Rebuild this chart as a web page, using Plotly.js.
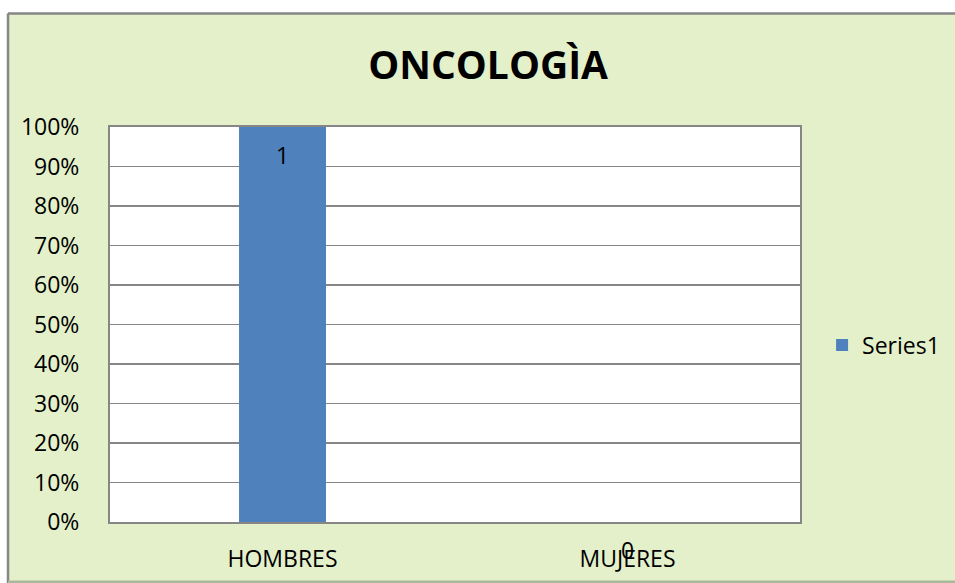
<!DOCTYPE html>
<html>
<head>
<meta charset="utf-8">
<script src="https://cdn.plot.ly/plotly-3.0.1.min.js"></script>
<style>html,body{margin:0;padding:0;background:#fff;}#chart{width:955px;height:583px;}</style>
</head>
<body>
<div id="chart"></div>
<script>
var categories = ["HOMBRES", "MUJERES"];
var values = [1, 0];
var labels = ["1", "0"];
var seriesName = "Series1";
var yTickVals = [0, 0.1, 0.2, 0.3, 0.4, 0.5, 0.6, 0.7, 0.8, 0.9, 1.0];
var titleText = "ONCOLOGÌA";

var font = "'Open Sans', 'Liberation Sans', sans-serif";
var gray = "#868686";

var trace = {
  type: "bar",
  x: categories,
  y: values,
  name: seriesName,
  marker: {color: "#4F81BD"},
  hoverinfo: "none"
};

var annotations = categories.map(function (c, i) {
  return {
    x: c, y: values[i], xref: "x", yref: "y",
    text: labels[i], showarrow: false,
    yshift: -28,
    font: {family: font, size: 23, color: "#000"}
  };
});

var layout = {
  width: 955, height: 583,
  margin: {l: 110, r: 155, t: 127, b: 61, autoexpand: false},
  paper_bgcolor: "#E3F0CA",
  plot_bgcolor: "#ffffff",
  showlegend: true,
  bargap: 0.748,
  title: {
    text: titleText,
    x: 0.548, xref: "paper", xanchor: "center",
    y: 0.888, yref: "container", yanchor: "middle",
    font: {family: font, size: 39, color: "#000", weight: "bold"}
  },
  xaxis: {
    type: "category",
    range: [-0.5, 1.5],
    showgrid: false,
    showline: true, linecolor: gray, linewidth: 2, mirror: true,
    ticks: "outside", ticklen: 15, tickcolor: "rgba(0,0,0,0)",
    tickfont: {family: font, size: 23, color: "#000"},
    fixedrange: true
  },
  yaxis: {
    range: [0, 1],
    tickvals: yTickVals,
    tickformat: ".0%",
    showgrid: true, gridcolor: gray, gridwidth: 1.5,
    showline: true, linecolor: gray, linewidth: 2, mirror: true,
    zeroline: false,
    ticks: "outside", ticklen: 24, tickcolor: "rgba(0,0,0,0)",
    tickfont: {family: font, size: 23, color: "#000"},
    fixedrange: true
  },
  legend: {
    x: 1.032, xanchor: "left",
    y: 0.448, yanchor: "middle",
    font: {family: font, size: 23, color: "#000"},
    bgcolor: "rgba(0,0,0,0)"
  },
  annotations: annotations,
  shapes: [
    {type: "rect", xref: "paper", yref: "paper", x0: -0.3, x1: 1.4, y0: 1.2886, y1: 1.4, fillcolor: "#ffffff", line: {width: 0}, layer: "above"},
    {type: "rect", xref: "paper", yref: "paper", x0: -0.3, x1: -0.1493, y0: -0.3, y1: 1.4, fillcolor: "#ffffff", line: {width: 0}, layer: "above"},
    {type: "line", xref: "paper", yref: "paper", x0: -0.1478, x1: -0.1478, y0: -0.3, y1: 1.2871, line: {color: gray, width: 2.5}, layer: "above"},
    {type: "line", xref: "paper", yref: "paper", x0: -0.1478, x1: 1.4, y0: 1.2871, y1: 1.2871, line: {color: gray, width: 2.5}, layer: "above"},
    {type: "line", xref: "paper", yref: "paper", x0: -0.1478, x1: 1.4, y0: -0.1519, y1: -0.1519, line: {color: "#a9b89a", width: 3}, layer: "above"}
  ]
};

Plotly.newPlot("chart", [trace], layout, {displayModeBar: false, staticPlot: true});
</script>
</body>
</html>
